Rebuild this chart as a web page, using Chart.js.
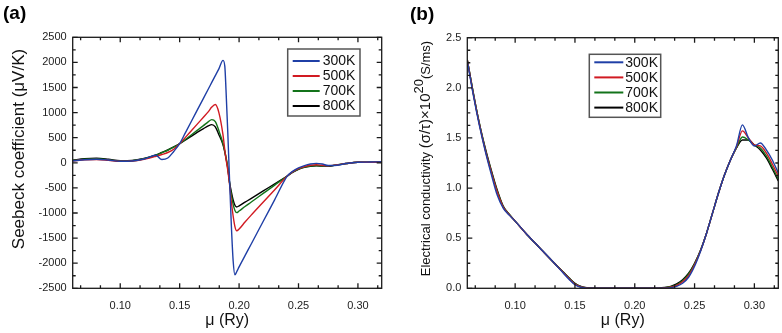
<!DOCTYPE html>
<html><head><meta charset="utf-8">
<script src="https://cdn.jsdelivr.net/npm/chart.js@4"></script>
<style>
body{margin:0;background:#fff;width:782px;height:333px;overflow:hidden;position:relative;font-family:'Liberation Sans',Arial,sans-serif}
.pan{position:absolute;top:0;width:391px;height:333px}
#wa{left:0} #wb{left:391px}
.lab{position:absolute;font-weight:bold;font-size:19px;color:#000;z-index:2;line-height:1}
</style></head><body>
<div class="lab" style="left:3px;top:3px">(a)</div>
<div class="lab" style="left:410px;top:4px">(b)</div>
<div id="wa" class="pan"><canvas id="ca" width="391" height="333"></canvas></div>
<div id="wb" class="pan"><canvas id="cb" width="391" height="333"></canvas></div>
<script>
// ---------- data ----------
const seriesNames = ['300K', '500K', '700K', '800K'];
const seriesColors = ['#1f3fa6', '#d11a22', '#13731a', '#000000'];

const muA = [0.06,0.07,0.08,0.09,0.10,0.11,0.12,0.13,0.135,0.14,0.145,0.15,0.155,0.16,0.165,0.17,0.174,0.177,0.180,0.183,0.1865,0.188,0.189,0.1905,0.192,0.1935,0.195,0.1965,0.198,0.20,0.205,0.21,0.22,0.23,0.2405,0.245,0.25,0.255,0.26,0.265,0.27,0.275,0.28,0.29,0.30,0.31,0.32];
const seebeck300 = [40,60,70,55,30,35,75,150,65,95,225,380,606,832,1058,1284,1465,1601,1737,1872,2040,1920,1450,600,-350,-1250,-1950,-2230,-2170,-2074,-1850,-1627,-1180,-734,-265,-170,-100,-55,-25,-12,-25,-55,-55,-15,10,15,20];
const seebeck500 = [40,60,65,50,30,35,70,130,165,205,270,380,512,644,776,908,1014,1110,1160,1000,550,250,80,-150,-430,-780,-1060,-1270,-1355,-1320,-1180,-1047,-791,-535,-265,-180,-115,-75,-50,-40,-50,-60,-50,-15,10,12,20];
const seebeck700 = [45,70,80,60,35,40,80,150,200,250,310,380,470,560,650,740,815,860,820,640,380,230,110,-90,-400,-640,-830,-950,-993,-960,-871,-786,-615,-444,-265,-185,-125,-85,-65,-55,-60,-65,-50,-15,10,12,20];
const seebeck800 = [50,80,90,70,40,45,85,155,205,255,315,380,455,530,610,680,735,760,715,560,360,210,90,-110,-390,-580,-740,-845,-880,-858,-785,-712,-565,-419,-265,-190,-130,-90,-70,-62,-65,-68,-52,-15,10,12,20];

const muB = [0.06,0.065,0.07,0.075,0.08,0.085,0.09,0.095,0.10,0.11,0.12,0.13,0.14,0.145,0.15,0.155,0.16,0.17,0.18,0.19,0.20,0.21,0.22,0.225,0.23,0.235,0.24,0.245,0.25,0.255,0.26,0.265,0.27,0.275,0.28,0.285,0.29,0.295,0.30,0.305,0.31,0.315,0.32];
const sigma300 = [2.27,1.93,1.63,1.37,1.14,0.93,0.80,0.73,0.67,0.535,0.41,0.285,0.155,0.09,0.035,0.01,0.002,0,0,0,0,0,0,0.001,0.005,0.02,0.05,0.11,0.22,0.37,0.55,0.75,0.95,1.13,1.28,1.42,1.63,1.50,1.42,1.45,1.38,1.28,1.15];
const sigma500 = [2.28,1.94,1.64,1.38,1.16,0.96,0.81,0.735,0.67,0.535,0.41,0.285,0.16,0.097,0.042,0.013,0.003,0,0,0,0,0,0,0.003,0.01,0.028,0.065,0.125,0.235,0.375,0.55,0.75,0.95,1.13,1.28,1.41,1.57,1.50,1.43,1.42,1.35,1.24,1.12];
const sigma700 = [2.28,1.95,1.65,1.39,1.17,0.97,0.815,0.74,0.67,0.535,0.41,0.285,0.163,0.102,0.047,0.016,0.004,0,0,0,0,0,0.001,0.005,0.015,0.035,0.075,0.14,0.245,0.38,0.55,0.75,0.95,1.13,1.28,1.40,1.51,1.48,1.43,1.40,1.32,1.21,1.09];
const sigma800 = [2.28,1.95,1.65,1.40,1.18,0.98,0.82,0.74,0.67,0.535,0.41,0.285,0.165,0.105,0.05,0.018,0.005,0,0,0,0,0,0.002,0.008,0.02,0.045,0.085,0.15,0.25,0.38,0.55,0.75,0.95,1.13,1.28,1.40,1.48,1.48,1.43,1.38,1.30,1.19,1.07];

const xTickValues = [0.10, 0.15, 0.20, 0.25, 0.30];
const yTickValuesA = [-2500,-2000,-1500,-1000,-500,0,500,1000,1500,2000,2500];
const yTickValuesB = [0.0, 0.5, 1.0, 1.5, 2.0, 2.5];

// y-axis titles as text runs: [text, font size, baseline raise]
const yTitleA = [['Seebeck coefficient (μV/K)', 17, 0]];
const yTitleB = [['Electrical conductivity ', 13, 0], ['(σ/τ)', 15, 0], ['×10', 15, 0], ['20', 13, 6.5], ['(S/ms)', 13, 0]];

// ---------- helpers ----------
const FAM = "'Liberation Sans', Arial, sans-serif";
Chart.defaults.font.family = FAM;
Chart.defaults.color = '#222';

function makeSets(mu, arrs) {
  return arrs.map((arr, i) => ({
    label: seriesNames[i],
    data: mu.map((m, k) => ({x: m, y: arr[k]})),
    borderColor: seriesColors[i],
    backgroundColor: seriesColors[i],
    borderWidth: 1.4,
    pointRadius: 0,
    cubicInterpolationMode: 'monotone',
    fill: false
  }));
}

const framePlugin = {
  id: 'frame',
  afterDatasetsDraw(chart, args, o) {
    const {ctx, chartArea: a, scales: {x, y}} = chart;
    ctx.save();
    ctx.strokeStyle = '#1a1a1a';
    ctx.lineWidth = 1.3;
    ctx.beginPath();
    const xs = o.xStep / o.xSub;
    for (let k = Math.ceil(x.min / xs - 1e-6); k <= Math.floor(x.max / xs + 1e-6); k++) {
      const px = x.getPixelForValue(k * xs);
      if (px <= a.left + 1 || px >= a.right - 1) continue;
      const len = (k % o.xSub === 0) ? 5 : 3;
      ctx.moveTo(px, a.bottom); ctx.lineTo(px, a.bottom - len);
      ctx.moveTo(px, a.top); ctx.lineTo(px, a.top + len);
    }
    const ys = o.yStep / o.ySub;
    for (let k = Math.ceil(y.min / ys - 1e-6); k <= Math.floor(y.max / ys + 1e-6); k++) {
      const py = y.getPixelForValue(k * ys);
      const len = (k % o.ySub === 0) ? 5 : 3;
      ctx.moveTo(a.left, py); ctx.lineTo(a.left + len, py);
      ctx.moveTo(a.right, py); ctx.lineTo(a.right - len, py);
    }
    ctx.stroke();
    ctx.strokeRect(a.left, a.top, a.right - a.left, a.bottom - a.top);
    ctx.restore();
  },
  afterDraw(chart, args, o) {
    const {ctx, chartArea: a} = chart;
    // legend
    const L = o.legend;
    const bx = a.right - L.fromRight, by = a.top + L.fromTop;
    ctx.save();
    ctx.fillStyle = '#fff';
    ctx.fillRect(bx, by, L.w, L.h);
    ctx.strokeStyle = '#555';
    ctx.lineWidth = 1.5;
    ctx.strokeRect(bx, by, L.w, L.h);
    ctx.font = L.font + 'px ' + FAM;
    ctx.textBaseline = 'middle';
    ctx.textAlign = 'left';
    chart.data.datasets.forEach((d, i) => {
      const ry = by + L.first + i * L.row;
      ctx.strokeStyle = d.borderColor;
      ctx.lineWidth = 2;
      ctx.beginPath();
      ctx.moveTo(bx + L.l0, ry); ctx.lineTo(bx + L.l1, ry);
      ctx.stroke();
      ctx.fillStyle = '#111';
      ctx.fillText(d.label, bx + L.tx, ry + 0.5);
    });
    ctx.restore();
    // y title (rotated runs)
    const T = o.ytitle;
    ctx.save();
    ctx.translate(T.cx, T.cy);
    ctx.rotate(-Math.PI / 2);
    ctx.fillStyle = '#111';
    ctx.textBaseline = 'middle';
    ctx.textAlign = 'left';
    let total = 0;
    const widths = T.runs.map(r => { ctx.font = r[1] + 'px ' + FAM; const w = ctx.measureText(r[0]).width; total += w; return w; });
    let px = -total / 2;
    T.runs.forEach((r, i) => {
      ctx.font = r[1] + 'px ' + FAM;
      ctx.fillText(r[0], px, -r[2]);
      px += widths[i];
    });
    ctx.restore();
  }
};

function makeChart(id, mu, arrs, yTicks, yFmt, ytitle, yWidth, pad, legend, ySub) {
  return new Chart(document.getElementById(id), {
    type: 'line',
    data: {datasets: makeSets(mu, arrs)},
    plugins: [framePlugin],
    options: {
      responsive: false,
      devicePixelRatio: 1,
      animation: false,
      layout: {padding: pad},
      plugins: {
        legend: {display: false},
        tooltip: {enabled: false},
        frame: {xStep: 0.05, xSub: 3, yStep: yTicks[1] - yTicks[0], ySub: ySub, legend: legend, ytitle: ytitle}
      },
      scales: {
        x: {
          type: 'linear', min: 0.06, max: 0.32,
          grid: {display: false, drawTicks: false},
          border: {display: false},
          afterBuildTicks: s => { s.ticks = xTickValues.map(v => ({value: v})); },
          afterFit: s => { s.height = 44.7; },
          ticks: {padding: 11, font: {size: 11}, color: '#222', callback: v => Number(v).toFixed(2)},
          title: {display: true, text: 'μ (Ry)', color: '#111', font: {size: 16}, padding: {top: 0, bottom: 3}}
        },
        y: {
          type: 'linear', min: yTicks[0], max: yTicks[yTicks.length - 1],
          grid: {display: false, drawTicks: false},
          border: {display: false},
          afterBuildTicks: s => { s.ticks = yTicks.map(v => ({value: v})); },
          afterFit: s => { s.width = yWidth; },
          ticks: {padding: 6, font: {size: 11}, color: '#222', callback: yFmt},
          title: {display: false}
        }
      }
    }
  });
}

makeChart('ca', muA, [seebeck300, seebeck500, seebeck700, seebeck800], yTickValuesA,
  v => String(v), {runs: yTitleA, cx: 19, cy: 149}, 72.7,
  {left: 0, right: 9.3, top: 37.3, bottom: 0},
  {fromRight: 94, fromTop: 11.7, w: 72.3, h: 67, first: 12, row: 15, l0: 5, l1: 32, tx: 35, font: 14}, 2);

makeChart('cb', muB, [sigma300, sigma500, sigma700, sigma800], yTickValuesB,
  v => Number(v).toFixed(1), {runs: yTitleB, cx: 35, cy: 158.5}, 76.3,
  {left: 0, right: 3.7, top: 37.7, bottom: 0},
  {fromRight: 189, fromTop: 16.6, w: 71.4, h: 63, first: 8, row: 15.1, l0: 5, l1: 34, tx: 36, font: 14}, 4);
</script>
</body></html>
